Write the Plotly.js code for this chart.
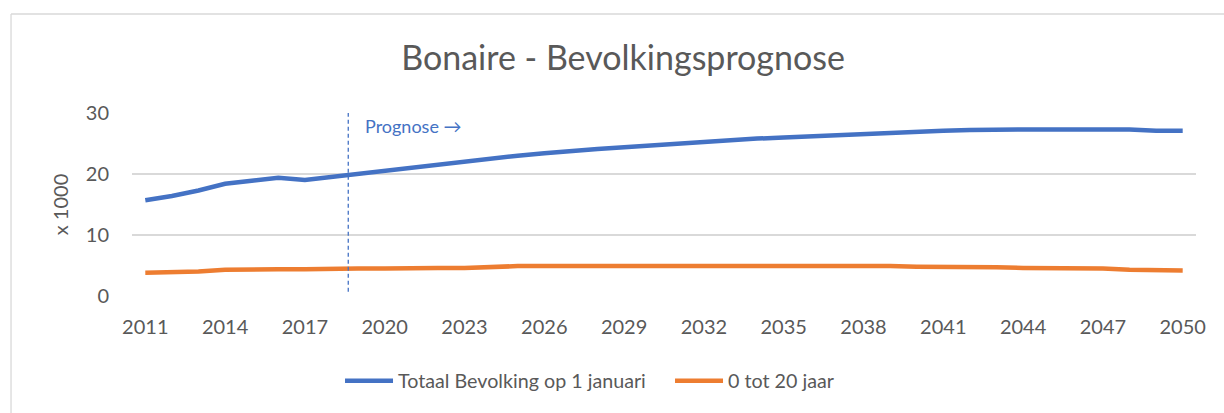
<!DOCTYPE html>
<html>
<head>
<meta charset="utf-8">
<script src="https://cdn.plot.ly/plotly-3.0.1.min.js"></script>
<style>html,body{margin:0;padding:0;background:#fff;}#chart{width:1224px;height:413px;}</style>
</head>
<body>
<div id="chart"></div>
<script>
const years = [2011,2012,2013,2014,2015,2016,2017,2018,2019,2020,2021,2022,2023,2024,2025,2026,2027,2028,2029,2030,2031,2032,2033,2034,2035,2036,2037,2038,2039,2040,2041,2042,2043,2044,2045,2046,2047,2048,2049,2050];
const totaal = [15.7,16.4,17.3,18.4,18.9,19.4,19.0,19.5,20.1,20.6,21.1,21.6,22.0,22.5,23.0,23.4,23.8,24.1,24.4,24.7,25.0,25.3,25.6,25.8,26.0,26.2,26.4,26.6,26.8,27.0,27.1,27.2,27.3,27.3,27.3,27.3,27.3,27.3,27.1,27.1];
const jong = [3.8,3.9,4.0,4.3,4.4,4.4,4.4,4.5,4.5,4.5,4.6,4.6,4.6,4.8,4.9,4.9,4.9,5.0,5.0,5.0,5.0,5.0,5.0,5.0,4.9,4.9,4.9,4.9,4.9,4.8,4.8,4.7,4.7,4.6,4.6,4.5,4.5,4.3,4.3,4.2];
const xTicks = [2011,2014,2017,2020,2023,2026,2029,2032,2035,2038,2041,2044,2047,2050];
const yTicks = [0,10,20,30];
const seriesNames = ['Totaal Bevolking op 1 januari','0 tot 20 jaar'];
const prognoseStart = 2018.63;
const prognoseLabel = 'Prognose →';
const titleText = 'Bonaire - Bevolkingsprognose';
const yTitle = 'x 1000';

const FONT = 'Lato, "Noto Sans", sans-serif';
const GREY = '#595959';

const traces = [
  {x: years, y: totaal, name: seriesNames[0], type: 'scatter', mode: 'lines',
   line: {color: '#4472C4', width: 4.5}},
  {x: years, y: jong, name: seriesNames[1], type: 'scatter', mode: 'lines',
   line: {color: '#ED7D31', width: 4.5}}
];

const layout = {
  width: 1224, height: 413,
  margin: {l: 132, r: 28, t: 113, b: 117},
  paper_bgcolor: '#fff', plot_bgcolor: '#fff',
  font: {family: FONT, color: GREY},
  title: {text: titleText, font: {family: FONT, size: 34, color: GREY},
          x: 0.4615, xanchor: 'center', y: 0.86, yanchor: 'middle', xref: 'paper', yref: 'container'},
  xaxis: {range: [2010.5, 2050.5], tickvals: xTicks, ticktext: xTicks.map(String),
          showgrid: false, zeroline: false, showline: false, ticks: '', ticklabelstandoff: 17,
          tickfont: {family: FONT, size: 20, color: GREY}, fixedrange: true},
  yaxis: {range: [0, 30], tickvals: yTicks, showgrid: true, gridcolor: '#D9D9D9', gridwidth: 1.3,
          zeroline: false, showline: false, ticks: '', ticklabelstandoff: 22,
          tickfont: {family: FONT, size: 20, color: GREY},
          title: {text: yTitle, font: {family: FONT, size: 20, color: GREY}, standoff: 11}, fixedrange: true},
  showlegend: true,
  legend: {orientation: 'h', x: 0.1955, xanchor: 'left', y: -0.4645, yanchor: 'middle',
           font: {family: FONT, size: 19.7, color: GREY}, itemwidth: 48, entrywidth: 267,
           bgcolor: 'rgba(0,0,0,0)'},
  shapes: [
    {type: 'line', xref: 'x', yref: 'y', x0: prognoseStart, x1: prognoseStart, y0: 0.7, y1: 30,
     line: {color: '#4472C4', width: 1.3, dash: '4px,3px'}},
    {type: 'line', xref: 'paper', yref: 'paper', x0: -0.1137, x1: -0.1137, y0: -0.8, y1: 1.541,
     line: {color: '#D9D9D9', width: 1.3}, layer: 'below'},
    {type: 'line', xref: 'paper', yref: 'paper', x0: -0.1137, x1: 1.2, y0: 1.541, y1: 1.541,
     line: {color: '#D9D9D9', width: 1.3}, layer: 'below'}
  ],
  annotations: [
    {xref: 'x', yref: 'y', x: prognoseStart, y: 30, text: prognoseLabel, showarrow: false,
     xanchor: 'left', yanchor: 'middle', xshift: 15, yshift: -13,
     font: {family: FONT, size: 18, color: '#4472C4'}}
  ]
};

Plotly.newPlot('chart', traces, layout, {displayModeBar: false, staticPlot: true});
</script>
</body>
</html>
